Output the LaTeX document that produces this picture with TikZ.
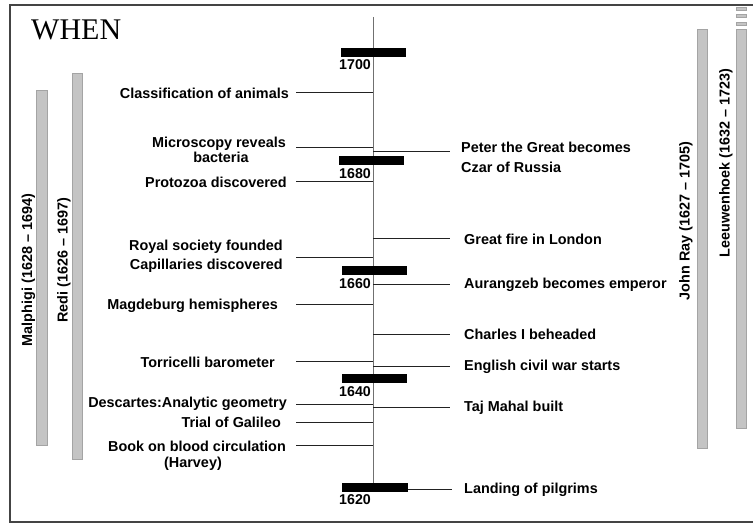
\documentclass[tikz,border=0pt]{standalone}
\usepackage{fontspec}
\setmainfont{Liberation Sans}
\newfontfamily\titleserif{Liberation Serif}
\definecolor{lifefill}{HTML}{C4C4C4}
\definecolor{lifedraw}{HTML}{A4A4A4}
\definecolor{frame}{HTML}{444444}
\definecolor{axis}{HTML}{707070}
\definecolor{evcol}{HTML}{222222}
\begin{document}
\begin{tikzpicture}[x=1pt,y=-1pt,
  lbl/.style={font=\fontsize{14.4}{14.4}\selectfont\bfseries, inner sep=0pt},
  yr/.style={font=\fontsize{14.2}{14.2}\selectfont\bfseries, inner sep=0pt, anchor=east},
  evline/.style={line width=1pt, evcol},
  yearbar/.style={fill=black, draw=none, minimum width=65pt, minimum height=9pt, inner sep=0pt, anchor=north west},
  life/.style={fill=lifefill, draw=lifedraw, line width=0.8pt}]
\useasboundingbox (0,0) rectangle (753,524);
% frame
\draw[line width=1.6pt, frame] (765,5) -- (10,5) -- (10,522) -- (765,522);
% title
\node[font=\fontsize{30}{30}\selectfont\titleserif, anchor=base west, inner sep=0pt] (title) at (31,40) {WHEN};
% axis
\coordinate (axtop) at (373,17);
\coordinate (axbot) at (373,488);
\draw[axis, line width=0.9pt] (axtop) -- (axbot);
% year bars
\node[yearbar] (b1700) at (341,48) {};
\node[yearbar] (b1680) at (339,156) {};
\node[yearbar] (b1660) at (342,265.5) {};
\node[yearbar] (b1640) at (342,374) {};
\node[yearbar, minimum width=66pt] (b1620) at (342,483) {};
\node[yr] (y1700) at (371,65) {1700};
\node[yr] (y1680) at (371,174) {1680};
\node[yr] (y1660) at (371,284) {1660};
\node[yr] (y1640) at (371,392) {1640};
\node[yr] (y1620) at (371,500) {1620};
% life bars
\draw[life] (36,90) rectangle (47,445);
\draw[life] (72,73) rectangle (82,459);
\draw[life] (697,29) rectangle (707,448);
\draw[life] (736,29) rectangle (746,428);
\draw[life] (736,7) rectangle (746,10);
\draw[life] (736,14.5) rectangle (746,17.5);
\draw[life] (736,22) rectangle (746,25);
\node[lbl, rotate=90] (malp) at (28.5,270) {Malphigi (1628 – 1694)};
\node[lbl, rotate=90] (redi) at (64,260) {Redi (1626 – 1697)};
\node[lbl, rotate=90] (ray) at (686,221) {John Ray (1627 – 1705)};
\node[lbl, rotate=90] (leeu) at (726,163) {Leeuwenhoek (1632 – 1723)};
% left events
\node[lbl, anchor=east] (cls) at (289,93) {Classification of animals};
\node[lbl, anchor=east] (mic1) at (286,144) {Microscopy reveals};
\node[lbl] (mic2) at (221,157) {bacteria};
\node[lbl, anchor=east] (pro) at (287,182) {Protozoa discovered};
\node[lbl, anchor=east] (roy) at (283,247) {Royal society founded};
\node[lbl, anchor=east] (cap) at (283,266) {Capillaries discovered};
\node[lbl, anchor=east] (mag) at (278,306) {Magdeburg hemispheres};
\node[lbl, anchor=east] (tor) at (275,362) {Torricelli barometer};
\node[lbl, anchor=east] (des) at (287,404) {Descartes:Analytic geometry};
\node[lbl, anchor=east] (gal) at (281,422) {Trial of Galileo};
\node[lbl, anchor=east] (book) at (286,446) {Book on blood circulation};
\node[lbl] (harv) at (193,464) {(Harvey)};
\foreach \n/\yy in {cls/93, mic/148, pro/182, roy/257, mag/304, tor/361, des/404, gal/422, book/445}{
  \coordinate (\n-s) at (296,\yy);
  \coordinate (\n-e) at (373,\yy);
  \draw[evline] (\n-s) -- (\n-e);
}
% right events
\node[lbl, anchor=west] (pet1) at (461,147) {Peter the Great becomes};
\node[lbl, anchor=west] (pet2) at (461,167) {Czar of Russia};
\node[lbl, anchor=west] (fire) at (464,239) {Great fire in London};
\node[lbl, anchor=west] (aur) at (464,285) {Aurangzeb becomes emperor};
\node[lbl, anchor=west] (cha) at (464,334) {Charles I beheaded};
\node[lbl, anchor=west] (eng) at (464,367) {English civil war starts};
\node[lbl, anchor=west] (taj) at (464,408) {Taj Mahal built};
\node[lbl, anchor=west] (pil) at (464,490) {Landing of pilgrims};
\foreach \n/\yy in {pet/152, fire/238, aur/284, cha/334, eng/366, taj/407}{
  \coordinate (\n-s) at (373,\yy);
  \coordinate (\n-e) at (450,\yy);
  \draw[evline] (\n-s) -- (\n-e);
}
\coordinate (pil-e) at (452,489);
\draw[evline] (b1620.east |- pil-e) -- (pil-e);
\end{tikzpicture}
\end{document}
